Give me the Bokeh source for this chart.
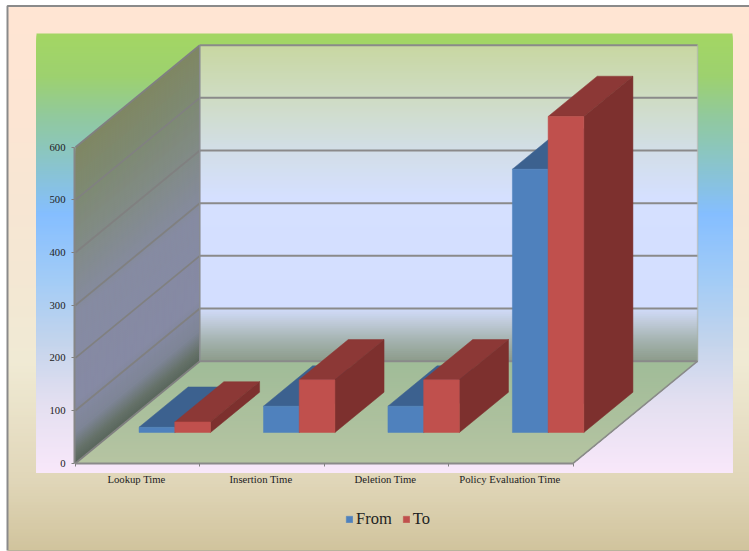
from bokeh.embed import file_html
from bokeh.resources import INLINE
from bokeh.models import FixedTicker, Legend, LegendItem, LinearAxis, Range1d
from bokeh.plotting import figure

# Chart data
categories = ["Lookup Time", "Insertion Time", "Deletion Time", "Policy Evaluation Time"]
from_values = [10, 50, 50, 500]
to_values = [20, 100, 100, 600]
value_ticks = [0, 100, 200, 300, 400, 500, 600]

W, H = 749, 551

# Pixel geometry of the front plane and the oblique depth vector
PX_LEFT, PX_UNIT = 75.0, 124.45
PY_ZERO, PY_PER_VALUE = 462.7, 316.0 / 600.0
DX = 124.3 / PX_UNIT
DY = 102.0 / PY_PER_VALUE

BAR_START, BAR_WIDTH = 0.21, 0.287
DEPTH_FRONT, DEPTH_BACK = 0.301, 0.696
V_MAX = 600.0


def proj(u, v, d):
    return u + d * DX, v + d * DY


def hex_rgb(c):
    return tuple(int(c[i:i + 2], 16) for i in (1, 3, 5))


def ramp(stops, t):
    """Colour at position t on a list of (position, '#rrggbb') stops."""
    if t <= stops[0][0]:
        return stops[0][1]
    for (t0, c0), (t1, c1) in zip(stops, stops[1:]):
        if t <= t1:
            f = (t - t0) / (t1 - t0)
            a, b = hex_rgb(c0), hex_rgb(c1)
            return "#%02x%02x%02x" % tuple(round(a[i] + (b[i] - a[i]) * f) for i in range(3))
    return stops[-1][1]


def steps(a, b, n):
    return [a + (b - a) * i / n for i in range(n + 1)]


p = figure(
    width=W, height=H, output_backend="svg", toolbar_location=None,
    x_range=Range1d(-PX_LEFT / PX_UNIT, (W - PX_LEFT) / PX_UNIT),
    y_range=Range1d((PY_ZERO - H) / PY_PER_VALUE, PY_ZERO / PY_PER_VALUE),
    x_axis_type=None, y_axis_type=None,
    min_border=0, min_border_left=0, min_border_right=0, min_border_top=0, min_border_bottom=0,
    outline_line_color=None, border_fill_color="white", background_fill_color="white",
)
p.grid.visible = False
p.extra_x_ranges["page"] = Range1d(0, W)
p.extra_y_ranges["page"] = Range1d(H, 0)


def page_gradient(x0, x1, y0, y1, stops, n):
    # Stacked bands painted top-down, each reaching the bottom edge so no seams show
    tops = steps(y0, y1, n)[:-1]
    p.quad(left=x0, right=x1, top=tops, bottom=y1, x_range_name="page", y_range_name="page",
           fill_color=[ramp(stops, t) for t in tops], line_color=None)


# Outer panel
page_gradient(8, W, 6, 550, [
    (7, "#ffe5d3"), (100, "#fde5d3"), (180, "#f8e6d3"), (270, "#f4e7d3"), (360, "#f0ead4"),
    (480, "#e0d6b8"), (550, "#d0c39c")], 180)
p.line([W, 7, 7], [5.5, 5.5, 550], x_range_name="page", y_range_name="page",
       line_color="#8a8a8a", line_width=2)
p.line([7, W], [550, 550], x_range_name="page", y_range_name="page",
       line_color="#b9b39c", line_width=1)

# Plot area
page_gradient(36, 732, 33, 472.5, [
    (34, "#a3d664"), (75, "#9dd16f"), (115, "#91c99d"), (150, "#8bc6bf"), (213, "#85beff"),
    (280, "#a3ccf6"), (340, "#c3d4ec"), (400, "#e3dff0"), (473, "#f9e8fa")], 220)

# Back wall, graded by value
back_stops = [(0, "#8b9a88"), (40, "#a3b2ae"), (75, "#bfcad8"), (105, "#d3deff"), (310, "#d5e0ff"),
              (400, "#d2dee8"), (500, "#cfdcc4"), (600, "#c8d7a2")]
wall_vals = steps(V_MAX, 0.0, 160)[:-1]
xs, ys, cols = [], [], []
for v in wall_vals:
    x0, y0 = proj(0, 0, 1)
    x1, y1 = proj(4, v, 1)
    xs.append([x0, x1, x1, x0])
    ys.append([y0, y0, y1, y1])
    cols.append(ramp(back_stops, v))
p.patches(xs, ys, fill_color=cols, line_color=None)

# Left wall, graded by value along its sheared plane
left_stops = [(0, "#58655a"), (25, "#66726a"), (60, "#7e8596"), (120, "#868aa4"), (280, "#868ba2"),
              (400, "#828b88"), (500, "#7e8a74"), (600, "#7f8763")]
xs, ys, cols = [], [], []
for v in wall_vals:
    c0 = proj(0, 0, 0)
    c1 = proj(0, 0, 1)
    c2 = proj(0, v, 1)
    c3 = proj(0, v, 0)
    xs.append([c0[0], c1[0], c2[0], c3[0]])
    ys.append([c0[1], c1[1], c2[1], c3[1]])
    cols.append(ramp(left_stops, v))
p.patches(xs, ys, fill_color=cols, line_color=None)

# Floor, back to front
xs, ys, cols = [], [], []
for d in steps(1.0, 0.0, 50)[:-1]:
    c0 = proj(0, 0, 0)
    c1 = proj(4, 0, 0)
    c2 = proj(4, 0, d)
    c3 = proj(0, 0, d)
    xs.append([c0[0], c1[0], c2[0], c3[0]])
    ys.append([c0[1], c1[1], c2[1], c3[1]])
    cols.append(ramp([(0, "#b6c4a2"), (1, "#a0bc98")], d))
p.patches(xs, ys, fill_color=cols, line_color=None)

# Gridlines on the two walls
grid_left_x, grid_left_y, grid_back_x, grid_back_y = [], [], [], []
for v in value_ticks:
    a, b, c = proj(0, v, 0), proj(0, v, 1), proj(4, v, 1)
    grid_left_x.append([a[0], b[0]])
    grid_left_y.append([a[1], b[1]])
    grid_back_x.append([b[0], c[0]])
    grid_back_y.append([b[1], c[1]])
p.multi_line(grid_left_x, grid_left_y, line_color="#808080", line_width=1.8)
p.multi_line(grid_back_x, grid_back_y, line_color="#8a8a8a", line_width=2)

# Wall and floor edges
b0, b1 = proj(0, 0, 1), proj(0, V_MAX, 1)
p.line([b0[0], b1[0]], [b0[1], b1[1]], line_color="#8a8c90", line_width=1.5)
r0, r1 = proj(4, 0, 1), proj(4, V_MAX, 1)
p.line([r0[0], r1[0]], [r0[1], r1[1]], line_color="#a8b0a8", line_alpha=0.6, line_width=1.5)
f0 = proj(4, 0, 0)
p.line([f0[0], r0[0]], [f0[1], r0[1]], line_color="#8a8a8a", line_width=1.5)


def bar_faces(values, offset):
    top_x, top_y, side_x, side_y, front_x, front_y = [], [], [], [], [], []
    for i, v in enumerate(values):
        u0 = i + BAR_START + offset * BAR_WIDTH
        u1 = u0 + BAR_WIDTH
        fl, fr = proj(u0, 0, DEPTH_FRONT), proj(u1, 0, DEPTH_FRONT)
        tl, tr = proj(u0, v, DEPTH_FRONT), proj(u1, v, DEPTH_FRONT)
        bl, br = proj(u0, v, DEPTH_BACK), proj(u1, v, DEPTH_BACK)
        bb = proj(u1, 0, DEPTH_BACK)
        front_x.append([fl[0], fr[0], tr[0], tl[0]])
        front_y.append([fl[1], fr[1], tr[1], tl[1]])
        top_x.append([tl[0], tr[0], br[0], bl[0]])
        top_y.append([tl[1], tr[1], br[1], bl[1]])
        side_x.append([fr[0], bb[0], br[0], tr[0]])
        side_y.append([fr[1], bb[1], br[1], tr[1]])
    return top_x, top_y, side_x, side_y, front_x, front_y


# Bars: the first series sits behind the second in each cluster
def draw_series(values, offset, top_col, side_col, front_col):
    tx, ty, sx, sy, fx, fy = bar_faces(values, offset)
    p.patches(tx, ty, fill_color=top_col, line_color=top_col, line_width=0.5)
    p.patches(sx, sy, fill_color=side_col, line_color=side_col, line_width=0.5)
    return p.patches(fx, fy, fill_color=front_col, line_color=front_col, line_width=0.5)


from_front = draw_series(from_values, 0, "#3c618f", "#345579", "#4f81bd")
to_front = draw_series(to_values, 1, "#8c3836", "#7d302e", "#c0504d")

# Axes sit on the front plane
ax_font = "Liberation Serif"
label_ticks = [i + 0.49 for i in range(len(categories))]
x_axis = LinearAxis(
    fixed_location=0,
    ticker=FixedTicker(ticks=label_ticks, minor_ticks=list(range(len(categories) + 1))),
    major_label_overrides=dict(zip(label_ticks, categories)),
    bounds=(0, len(categories)),
    axis_line_color="#8a8a8a", axis_line_width=2,
    major_tick_line_color=None, major_tick_in=0, major_tick_out=0,
    minor_tick_line_color="#808080", minor_tick_line_width=1, minor_tick_in=0, minor_tick_out=3,
    major_label_standoff=7,
    major_label_text_font=ax_font, major_label_text_font_size="10.7px",
    major_label_text_color="#222222",
)
p.add_layout(x_axis, "below")

y_axis = LinearAxis(
    fixed_location=-0.008,
    ticker=FixedTicker(ticks=value_ticks),
    bounds=(0, V_MAX),
    axis_line_color="#868686", axis_line_width=2,
    major_tick_line_color="#808080", major_tick_line_width=1, major_tick_in=0, major_tick_out=3,
    minor_tick_line_color=None,
    major_label_standoff=6,
    major_label_text_font=ax_font, major_label_text_font_size="10.7px",
    major_label_text_color="#222222",
)
p.add_layout(y_axis, "left")

# Legend
legend = Legend(
    items=[LegendItem(label="From", renderers=[from_front]),
           LegendItem(label="To", renderers=[to_front])],
    location=(345, 22), orientation="horizontal",
    glyph_width=8, glyph_height=8, label_standoff=3, spacing=10,
    padding=0, margin=0, border_line_color=None, background_fill_alpha=0,
    label_text_font=ax_font, label_text_font_size="16.5px", label_text_color="#222222",
)
p.add_layout(legend)

open("out.html", "w").write(file_html(p, INLINE))
